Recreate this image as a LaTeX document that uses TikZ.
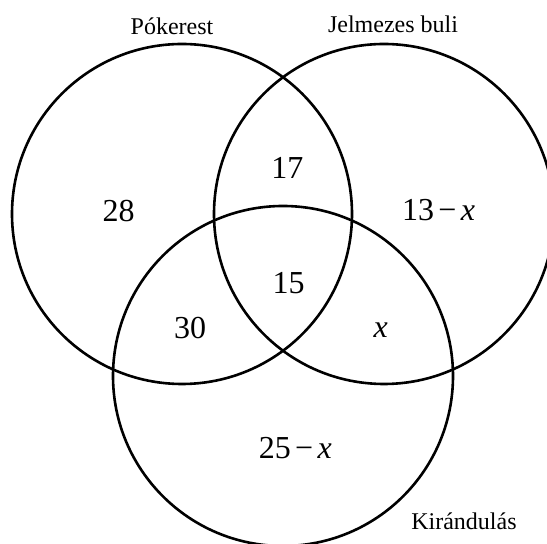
\documentclass[tikz,border=0pt]{standalone}
\usepackage{fontspec}
\setmainfont{Liberation Serif}
\usetikzlibrary{positioning}
\tikzset{
  setline/.style={draw=black, line width=1.3pt},
  setname/.style={font=\fontsize{12}{14}\selectfont, anchor=base, inner sep=0pt},
  count/.style={font=\fontsize{16}{19}\selectfont, anchor=base, inner sep=0pt},
}
\newcommand{\mns}{\kern2.2pt−\kern2.2pt}

\begin{document}
\begin{tikzpicture}[x=0.5pt, y=-0.5pt]

\clip (0,0) rectangle (547,544);

\coordinate (poker) at (182,214);
\coordinate (jelmez) at (384,214);
\coordinate (kirand) at (283,376);

\draw[setline] (poker) circle[radius=85pt];
\draw[setline] (jelmez) circle[radius=85pt];
\draw[setline] (kirand) circle[radius=85pt];

\node[setname] (lpoker) at (172,34.5) {Pókerest};
\node[setname] (ljelmez) at (393,32.5) {Jelmezes buli};
\node[setname] (lkirand) at (464,529.5) {Kirándulás};

\node[count] (only28) at (118.6,221.5) {28};
\node[count] (pj17) at (287.3,178.3) {17};
\node[count] (onlyj) at (438.6,221) {13\mns\textit{x}};
\node[count] (all15) at (288.6,293.7) {15};
\node[count] (pk30) at (190.2,338.7) {30};
\node[count] (jkx) at (380.7,337.5) {\textit{x}};
\node[count] (onlyk) at (295.3,458.7) {25\mns\textit{x}};

\end{tikzpicture}
\end{document}
